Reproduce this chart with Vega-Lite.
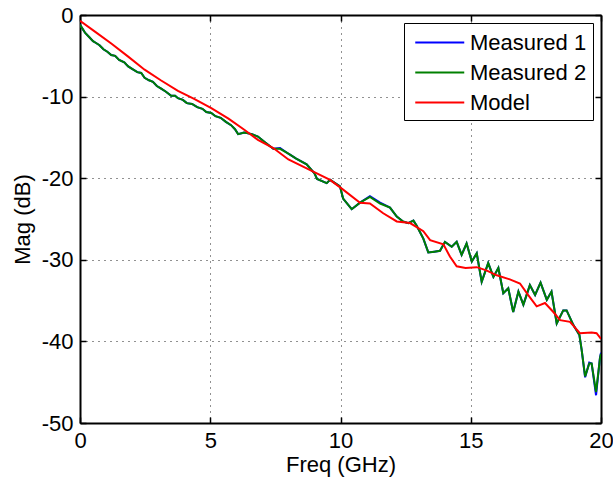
{
  "$schema": "https://vega.github.io/schema/vega-lite/v6.json",
  "width": 521,
  "height": 408,
  "autosize": {"type": "none"},
  "padding": {"left": 80, "top": 15, "right": 12, "bottom": 59},
  "background": "white",
  "config": {
    "view": {"stroke": null},
    "font": "Liberation Sans",
    "axis": {
      "labelFont": "Liberation Sans",
      "titleFont": "Liberation Sans",
      "labelFontSize": 22,
      "titleFontSize": 22,
      "labelColor": "#000",
      "titleColor": "#000",
      "titleFontWeight": "normal",
      "domainColor": "#000",
      "domainWidth": 2,
      "tickColor": "#000",
      "tickWidth": 1.5,
      "tickSize": -6,
      "gridColor": "#222",
      "gridDash": [1, 5],
      "gridWidth": 1,
      "gridOpacity": 1
    },
    "legend": {
      "labelFont": "Liberation Sans",
      "labelFontSize": 22,
      "labelColor": "#000"
    }
  },
  "datasets": {
    "curves": [
      {"f": 0.0, "dB": -1.2, "series": "Measured 1"},
      {"f": 0.1, "dB": -1.7, "series": "Measured 1"},
      {"f": 0.2, "dB": -2.2, "series": "Measured 1"},
      {"f": 0.35, "dB": -2.7, "series": "Measured 1"},
      {"f": 0.5, "dB": -3.2, "series": "Measured 1"},
      {"f": 0.6, "dB": -3.4, "series": "Measured 1"},
      {"f": 0.75, "dB": -3.7, "series": "Measured 1"},
      {"f": 0.9, "dB": -4.2, "series": "Measured 1"},
      {"f": 1.05, "dB": -4.5, "series": "Measured 1"},
      {"f": 1.2, "dB": -4.9, "series": "Measured 1"},
      {"f": 1.35, "dB": -5.0, "series": "Measured 1"},
      {"f": 1.5, "dB": -5.5, "series": "Measured 1"},
      {"f": 1.7, "dB": -5.8, "series": "Measured 1"},
      {"f": 1.85, "dB": -6.3, "series": "Measured 1"},
      {"f": 2.0, "dB": -6.6, "series": "Measured 1"},
      {"f": 2.2, "dB": -7.0, "series": "Measured 1"},
      {"f": 2.35, "dB": -7.1, "series": "Measured 1"},
      {"f": 2.48, "dB": -7.7, "series": "Measured 1"},
      {"f": 2.65, "dB": -8.0, "series": "Measured 1"},
      {"f": 2.8, "dB": -8.2, "series": "Measured 1"},
      {"f": 2.95, "dB": -8.7, "series": "Measured 1"},
      {"f": 3.1, "dB": -9.0, "series": "Measured 1"},
      {"f": 3.3, "dB": -9.4, "series": "Measured 1"},
      {"f": 3.5, "dB": -9.9, "series": "Measured 1"},
      {"f": 3.65, "dB": -9.9, "series": "Measured 1"},
      {"f": 3.76, "dB": -10.2, "series": "Measured 1"},
      {"f": 3.95, "dB": -10.4, "series": "Measured 1"},
      {"f": 4.1, "dB": -10.8, "series": "Measured 1"},
      {"f": 4.3, "dB": -10.9, "series": "Measured 1"},
      {"f": 4.5, "dB": -11.3, "series": "Measured 1"},
      {"f": 4.7, "dB": -11.5, "series": "Measured 1"},
      {"f": 4.85, "dB": -11.9, "series": "Measured 1"},
      {"f": 5.04, "dB": -12.0, "series": "Measured 1"},
      {"f": 5.2, "dB": -12.4, "series": "Measured 1"},
      {"f": 5.4, "dB": -12.6, "series": "Measured 1"},
      {"f": 5.6, "dB": -13.1, "series": "Measured 1"},
      {"f": 5.8, "dB": -13.5, "series": "Measured 1"},
      {"f": 5.95, "dB": -14.0, "series": "Measured 1"},
      {"f": 6.07, "dB": -14.6, "series": "Measured 1"},
      {"f": 6.2, "dB": -14.5, "series": "Measured 1"},
      {"f": 6.3, "dB": -14.4, "series": "Measured 1"},
      {"f": 6.6, "dB": -14.6, "series": "Measured 1"},
      {"f": 6.83, "dB": -14.9, "series": "Measured 1"},
      {"f": 7.1, "dB": -15.6, "series": "Measured 1"},
      {"f": 7.42, "dB": -16.4, "series": "Measured 1"},
      {"f": 7.68, "dB": -16.3, "series": "Measured 1"},
      {"f": 8.0, "dB": -17.0, "series": "Measured 1"},
      {"f": 8.3, "dB": -17.6, "series": "Measured 1"},
      {"f": 8.7, "dB": -18.3, "series": "Measured 1"},
      {"f": 9.0, "dB": -19.4, "series": "Measured 1"},
      {"f": 9.1, "dB": -20.1, "series": "Measured 1"},
      {"f": 9.47, "dB": -20.6, "series": "Measured 1"},
      {"f": 9.6, "dB": -20.2, "series": "Measured 1"},
      {"f": 9.98, "dB": -21.0, "series": "Measured 1"},
      {"f": 10.1, "dB": -22.5, "series": "Measured 1"},
      {"f": 10.43, "dB": -23.8, "series": "Measured 1"},
      {"f": 10.75, "dB": -23.0, "series": "Measured 1"},
      {"f": 11.13, "dB": -22.2, "series": "Measured 1"},
      {"f": 11.52, "dB": -23.0, "series": "Measured 1"},
      {"f": 11.9, "dB": -23.6, "series": "Measured 1"},
      {"f": 12.16, "dB": -24.7, "series": "Measured 1"},
      {"f": 12.4, "dB": -25.3, "series": "Measured 1"},
      {"f": 12.6, "dB": -25.5, "series": "Measured 1"},
      {"f": 12.8, "dB": -25.2, "series": "Measured 1"},
      {"f": 12.92, "dB": -25.8, "series": "Measured 1"},
      {"f": 13.18, "dB": -27.4, "series": "Measured 1"},
      {"f": 13.37, "dB": -29.1, "series": "Measured 1"},
      {"f": 13.6, "dB": -29.0, "series": "Measured 1"},
      {"f": 13.82, "dB": -28.9, "series": "Measured 1"},
      {"f": 14.01, "dB": -27.8, "series": "Measured 1"},
      {"f": 14.27, "dB": -28.4, "series": "Measured 1"},
      {"f": 14.46, "dB": -27.8, "series": "Measured 1"},
      {"f": 14.65, "dB": -29.4, "series": "Measured 1"},
      {"f": 14.84, "dB": -28.0, "series": "Measured 1"},
      {"f": 15.04, "dB": -30.2, "series": "Measured 1"},
      {"f": 15.23, "dB": -29.2, "series": "Measured 1"},
      {"f": 15.42, "dB": -32.7, "series": "Measured 1"},
      {"f": 15.67, "dB": -30.4, "series": "Measured 1"},
      {"f": 15.87, "dB": -32.1, "series": "Measured 1"},
      {"f": 16.06, "dB": -31.0, "series": "Measured 1"},
      {"f": 16.25, "dB": -34.1, "series": "Measured 1"},
      {"f": 16.44, "dB": -33.5, "series": "Measured 1"},
      {"f": 16.63, "dB": -36.4, "series": "Measured 1"},
      {"f": 16.83, "dB": -33.9, "series": "Measured 1"},
      {"f": 17.02, "dB": -35.5, "series": "Measured 1"},
      {"f": 17.27, "dB": -33.1, "series": "Measured 1"},
      {"f": 17.47, "dB": -34.3, "series": "Measured 1"},
      {"f": 17.68, "dB": -32.8, "series": "Measured 1"},
      {"f": 17.92, "dB": -34.9, "series": "Measured 1"},
      {"f": 18.1, "dB": -33.9, "series": "Measured 1"},
      {"f": 18.3, "dB": -37.8, "series": "Measured 1"},
      {"f": 18.55, "dB": -36.2, "series": "Measured 1"},
      {"f": 18.68, "dB": -36.2, "series": "Measured 1"},
      {"f": 18.94, "dB": -38.0, "series": "Measured 1"},
      {"f": 19.17, "dB": -39.2, "series": "Measured 1"},
      {"f": 19.26, "dB": -41.1, "series": "Measured 1"},
      {"f": 19.39, "dB": -44.4, "series": "Measured 1"},
      {"f": 19.55, "dB": -42.6, "series": "Measured 1"},
      {"f": 19.64, "dB": -42.7, "series": "Measured 1"},
      {"f": 19.81, "dB": -46.6, "series": "Measured 1"},
      {"f": 19.96, "dB": -42.0, "series": "Measured 1"},
      {"f": 20.0, "dB": -41.4, "series": "Measured 1"},

      {"f": 0.0, "dB": -1.2, "series": "Measured 2"},
      {"f": 0.1, "dB": -1.7, "series": "Measured 2"},
      {"f": 0.2, "dB": -2.2, "series": "Measured 2"},
      {"f": 0.35, "dB": -2.7, "series": "Measured 2"},
      {"f": 0.5, "dB": -3.2, "series": "Measured 2"},
      {"f": 0.6, "dB": -3.4, "series": "Measured 2"},
      {"f": 0.75, "dB": -3.7, "series": "Measured 2"},
      {"f": 0.9, "dB": -4.2, "series": "Measured 2"},
      {"f": 1.05, "dB": -4.5, "series": "Measured 2"},
      {"f": 1.2, "dB": -4.9, "series": "Measured 2"},
      {"f": 1.35, "dB": -5.0, "series": "Measured 2"},
      {"f": 1.5, "dB": -5.5, "series": "Measured 2"},
      {"f": 1.7, "dB": -5.8, "series": "Measured 2"},
      {"f": 1.85, "dB": -6.3, "series": "Measured 2"},
      {"f": 2.0, "dB": -6.6, "series": "Measured 2"},
      {"f": 2.2, "dB": -7.0, "series": "Measured 2"},
      {"f": 2.35, "dB": -7.1, "series": "Measured 2"},
      {"f": 2.48, "dB": -7.7, "series": "Measured 2"},
      {"f": 2.65, "dB": -8.0, "series": "Measured 2"},
      {"f": 2.8, "dB": -8.2, "series": "Measured 2"},
      {"f": 2.95, "dB": -8.7, "series": "Measured 2"},
      {"f": 3.1, "dB": -9.0, "series": "Measured 2"},
      {"f": 3.3, "dB": -9.4, "series": "Measured 2"},
      {"f": 3.5, "dB": -9.9, "series": "Measured 2"},
      {"f": 3.65, "dB": -9.9, "series": "Measured 2"},
      {"f": 3.76, "dB": -10.2, "series": "Measured 2"},
      {"f": 3.95, "dB": -10.4, "series": "Measured 2"},
      {"f": 4.1, "dB": -10.8, "series": "Measured 2"},
      {"f": 4.3, "dB": -10.9, "series": "Measured 2"},
      {"f": 4.5, "dB": -11.3, "series": "Measured 2"},
      {"f": 4.7, "dB": -11.5, "series": "Measured 2"},
      {"f": 4.85, "dB": -11.9, "series": "Measured 2"},
      {"f": 5.04, "dB": -12.0, "series": "Measured 2"},
      {"f": 5.2, "dB": -12.4, "series": "Measured 2"},
      {"f": 5.4, "dB": -12.6, "series": "Measured 2"},
      {"f": 5.6, "dB": -13.1, "series": "Measured 2"},
      {"f": 5.8, "dB": -13.5, "series": "Measured 2"},
      {"f": 5.95, "dB": -14.0, "series": "Measured 2"},
      {"f": 6.07, "dB": -14.6, "series": "Measured 2"},
      {"f": 6.2, "dB": -14.5, "series": "Measured 2"},
      {"f": 6.3, "dB": -14.4, "series": "Measured 2"},
      {"f": 6.6, "dB": -14.6, "series": "Measured 2"},
      {"f": 6.83, "dB": -14.9, "series": "Measured 2"},
      {"f": 7.1, "dB": -15.6, "series": "Measured 2"},
      {"f": 7.42, "dB": -16.4, "series": "Measured 2"},
      {"f": 7.68, "dB": -16.4, "series": "Measured 2"},
      {"f": 8.0, "dB": -17.0, "series": "Measured 2"},
      {"f": 8.3, "dB": -17.6, "series": "Measured 2"},
      {"f": 8.7, "dB": -18.3, "series": "Measured 2"},
      {"f": 9.0, "dB": -19.4, "series": "Measured 2"},
      {"f": 9.1, "dB": -20.1, "series": "Measured 2"},
      {"f": 9.47, "dB": -20.6, "series": "Measured 2"},
      {"f": 9.6, "dB": -20.2, "series": "Measured 2"},
      {"f": 9.98, "dB": -21.0, "series": "Measured 2"},
      {"f": 10.1, "dB": -22.5, "series": "Measured 2"},
      {"f": 10.43, "dB": -23.8, "series": "Measured 2"},
      {"f": 10.75, "dB": -23.0, "series": "Measured 2"},
      {"f": 11.13, "dB": -22.3, "series": "Measured 2"},
      {"f": 11.52, "dB": -23.1, "series": "Measured 2"},
      {"f": 11.9, "dB": -23.6, "series": "Measured 2"},
      {"f": 12.16, "dB": -24.7, "series": "Measured 2"},
      {"f": 12.4, "dB": -25.3, "series": "Measured 2"},
      {"f": 12.6, "dB": -25.5, "series": "Measured 2"},
      {"f": 12.8, "dB": -25.2, "series": "Measured 2"},
      {"f": 12.92, "dB": -25.8, "series": "Measured 2"},
      {"f": 13.18, "dB": -27.4, "series": "Measured 2"},
      {"f": 13.37, "dB": -29.1, "series": "Measured 2"},
      {"f": 13.6, "dB": -29.0, "series": "Measured 2"},
      {"f": 13.82, "dB": -28.9, "series": "Measured 2"},
      {"f": 14.01, "dB": -27.8, "series": "Measured 2"},
      {"f": 14.27, "dB": -28.4, "series": "Measured 2"},
      {"f": 14.46, "dB": -27.8, "series": "Measured 2"},
      {"f": 14.65, "dB": -29.4, "series": "Measured 2"},
      {"f": 14.84, "dB": -28.0, "series": "Measured 2"},
      {"f": 15.04, "dB": -30.2, "series": "Measured 2"},
      {"f": 15.23, "dB": -29.2, "series": "Measured 2"},
      {"f": 15.42, "dB": -32.7, "series": "Measured 2"},
      {"f": 15.67, "dB": -30.4, "series": "Measured 2"},
      {"f": 15.87, "dB": -32.1, "series": "Measured 2"},
      {"f": 16.06, "dB": -31.0, "series": "Measured 2"},
      {"f": 16.25, "dB": -34.1, "series": "Measured 2"},
      {"f": 16.44, "dB": -33.5, "series": "Measured 2"},
      {"f": 16.63, "dB": -36.4, "series": "Measured 2"},
      {"f": 16.83, "dB": -33.9, "series": "Measured 2"},
      {"f": 17.02, "dB": -35.5, "series": "Measured 2"},
      {"f": 17.27, "dB": -33.1, "series": "Measured 2"},
      {"f": 17.47, "dB": -34.3, "series": "Measured 2"},
      {"f": 17.68, "dB": -32.8, "series": "Measured 2"},
      {"f": 17.92, "dB": -34.9, "series": "Measured 2"},
      {"f": 18.1, "dB": -33.9, "series": "Measured 2"},
      {"f": 18.3, "dB": -37.8, "series": "Measured 2"},
      {"f": 18.55, "dB": -36.2, "series": "Measured 2"},
      {"f": 18.68, "dB": -36.2, "series": "Measured 2"},
      {"f": 18.94, "dB": -38.0, "series": "Measured 2"},
      {"f": 19.17, "dB": -39.2, "series": "Measured 2"},
      {"f": 19.26, "dB": -41.1, "series": "Measured 2"},
      {"f": 19.39, "dB": -44.3, "series": "Measured 2"},
      {"f": 19.55, "dB": -42.7, "series": "Measured 2"},
      {"f": 19.64, "dB": -42.7, "series": "Measured 2"},
      {"f": 19.81, "dB": -46.2, "series": "Measured 2"},
      {"f": 19.96, "dB": -42.1, "series": "Measured 2"},
      {"f": 20.0, "dB": -41.5, "series": "Measured 2"},

      {"f": 0.0, "dB": -0.7, "series": "Model"},
      {"f": 0.6, "dB": -2.1, "series": "Model"},
      {"f": 1.2, "dB": -3.5, "series": "Model"},
      {"f": 1.85, "dB": -5.1, "series": "Model"},
      {"f": 2.48, "dB": -6.7, "series": "Model"},
      {"f": 3.1, "dB": -8.0, "series": "Model"},
      {"f": 3.76, "dB": -9.3, "series": "Model"},
      {"f": 4.4, "dB": -10.3, "series": "Model"},
      {"f": 5.04, "dB": -11.4, "series": "Model"},
      {"f": 5.7, "dB": -12.7, "series": "Model"},
      {"f": 6.32, "dB": -14.1, "series": "Model"},
      {"f": 6.83, "dB": -15.3, "series": "Model"},
      {"f": 7.42, "dB": -16.3, "series": "Model"},
      {"f": 8.0, "dB": -17.7, "series": "Model"},
      {"f": 8.7, "dB": -18.8, "series": "Model"},
      {"f": 9.6, "dB": -20.2, "series": "Model"},
      {"f": 10.1, "dB": -21.4, "series": "Model"},
      {"f": 10.75, "dB": -23.0, "series": "Model"},
      {"f": 11.13, "dB": -23.1, "series": "Model"},
      {"f": 11.64, "dB": -24.3, "series": "Model"},
      {"f": 12.16, "dB": -25.3, "series": "Model"},
      {"f": 12.67, "dB": -25.5, "series": "Model"},
      {"f": 13.18, "dB": -26.5, "series": "Model"},
      {"f": 13.44, "dB": -27.6, "series": "Model"},
      {"f": 13.95, "dB": -28.1, "series": "Model"},
      {"f": 14.2, "dB": -29.6, "series": "Model"},
      {"f": 14.46, "dB": -30.8, "series": "Model"},
      {"f": 14.8, "dB": -31.0, "series": "Model"},
      {"f": 15.23, "dB": -30.9, "series": "Model"},
      {"f": 15.6, "dB": -31.3, "series": "Model"},
      {"f": 16.0, "dB": -31.9, "series": "Model"},
      {"f": 16.5, "dB": -32.4, "series": "Model"},
      {"f": 16.89, "dB": -32.9, "series": "Model"},
      {"f": 17.2, "dB": -34.3, "series": "Model"},
      {"f": 17.53, "dB": -35.7, "series": "Model"},
      {"f": 17.85, "dB": -35.3, "series": "Model"},
      {"f": 18.17, "dB": -36.4, "series": "Model"},
      {"f": 18.43, "dB": -37.4, "series": "Model"},
      {"f": 18.81, "dB": -37.6, "series": "Model"},
      {"f": 19.19, "dB": -39.0, "series": "Model"},
      {"f": 19.64, "dB": -38.9, "series": "Model"},
      {"f": 19.83, "dB": -39.0, "series": "Model"},
      {"f": 20.0, "dB": -39.7, "series": "Model"}
    ]
  },
  "data": {"name": "curves"},
  "layer": [
    {
      "mark": {"type": "line", "strokeWidth": 2, "clip": true},
      "encoding": {
        "x": {
          "field": "f", "type": "quantitative",
          "scale": {"domain": [0, 20], "nice": false, "zero": false},
          "axis": {"title": "Freq (GHz)", "orient": "bottom", "values": [0, 5, 10, 15, 20], "grid": true, "labelPadding": 13, "titlePadding": 3, "labelFlush": false, "labelExpr": "datum.value + ''"}
        },
        "y": {
          "field": "dB", "type": "quantitative",
          "scale": {"domain": [-50, 0], "nice": false, "zero": false},
          "axis": {"title": "Mag (dB)", "orient": "left", "values": [-50, -40, -30, -20, -10, 0], "grid": true, "labelPadding": 13, "titlePadding": 7, "labelFlush": false, "labelExpr": "datum.value + ''"}
        },
        "color": {
          "field": "series", "type": "nominal",
          "scale": {"domain": ["Measured 1", "Measured 2", "Model"], "range": ["#0000ff", "#008000", "#ff0000"]},
          "legend": {
            "title": null,
            "orient": "none",
            "legendX": 324,
            "legendY": 8,
            "symbolType": "M-0.673,0H3.327",
            "symbolSize": 600,
            "symbolStrokeWidth": 2,
            "labelOffset": 33,
            "rowPadding": 5,
            "padding": 6,
            "strokeColor": "#000",
            "fillColor": "#fff",
            "labelLimit": 300,
            "labelExpr": "datum.label + '\u00a0'"
          }
        }
      }
    },
    {
      "mark": {"type": "line", "opacity": 0},
      "encoding": {
        "x": {
          "field": "f", "type": "quantitative",
          "axis": {"title": null, "orient": "top", "values": [0, 5, 10, 15, 20], "labels": false, "grid": false}
        },
        "y": {
          "field": "dB", "type": "quantitative",
          "axis": {"title": null, "orient": "right", "values": [-50, -40, -30, -20, -10, 0], "labels": false, "grid": false}
        }
      }
    }
  ]
}
